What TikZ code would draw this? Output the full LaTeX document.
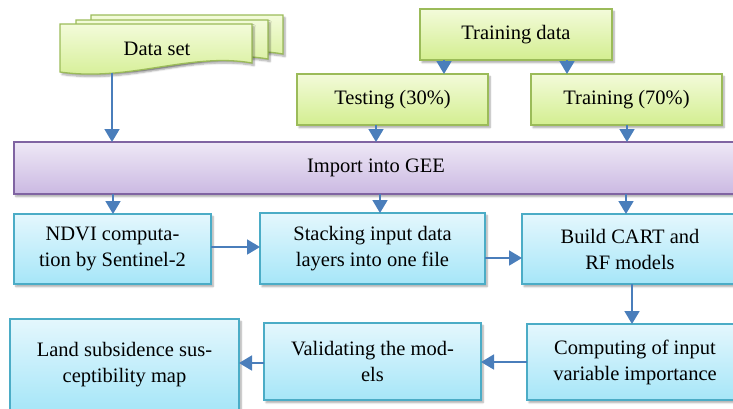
\documentclass[tikz,border=0pt]{standalone}
\usepackage{fontspec}
\setmainfont{Liberation Serif}
\usetikzlibrary{arrows.meta,shadows.blur}

\definecolor{grnline}{HTML}{9BBB59}
\definecolor{grntop}{HTML}{F3FBDA}
\definecolor{grnbot}{HTML}{D3EE90}
\definecolor{bluline}{HTML}{4BACC6}
\definecolor{blutop}{HTML}{E4F7FD}
\definecolor{blubot}{HTML}{A6E6F8}
\definecolor{purline}{HTML}{8064A2}
\definecolor{purtop}{HTML}{EEE8F6}
\definecolor{purbot}{HTML}{CBB9E2}
\definecolor{arrcol}{HTML}{4A7EBB}

\tikzset{
  boxshadow/.style={blur shadow={shadow xshift=2pt,shadow yshift=-2.5pt,
      shadow blur steps=6,shadow opacity=35}},
  basebox/.style={rectangle,inner sep=2pt,outer sep=0pt,align=center,
      line width=1.3pt,boxshadow,
      font=\fontsize{20.5}{26}\selectfont},
  greenbox/.style={basebox,draw=grnline,top color=grntop,bottom color=grnbot},
  bluebox/.style={basebox,draw=bluline,top color=blutop,bottom color=blubot},
  purplebox/.style={basebox,draw=purline,top color=purtop,bottom color=purbot},
  docsheet/.style={draw=grnline,line width=1.3pt,top color=grntop,
      bottom color=grnbot,boxshadow},
  docpage/.pic={
    \path[docsheet] (0,0) -- (192,0) -- (192,39)
      .. controls (130,28) and (70,58) .. (0,48) -- cycle;
  },
  arr/.style={draw=arrcol,line width=1.8pt,
      -{Triangle[width=15pt,length=13pt]}},
}

\begin{document}
\begin{tikzpicture}[x=1pt,y=-1pt]
  \useasboundingbox (0,0) rectangle (733,408);
  \path[clip] (0,0) rectangle (733,408);

  % stacked data-set sheets, back to front
  \pic at (91,15) {docpage};
  \pic at (76,20) {docpage};
  \pic at (60,24) {docpage};
  \node[font=\fontsize{20.5}{26}\selectfont] (ds) at (157,49) {Data set};
  \coordinate (dsb) at (112,73);

  % sample split
  \node[greenbox,minimum width=192pt,minimum height=51pt] (td) at (516,34.5) {Training data};
  \node[greenbox,minimum width=191pt,minimum height=51pt] (test) at (392.5,99.5) {Testing (30\%)};
  \node[greenbox,minimum width=191pt,minimum height=51pt] (train) at (626.5,99.5) {Training (70\%)};

  % platform
  \node[purplebox,minimum width=724pt,minimum height=52pt] (gee) at (376,168) {Import into GEE};

  % processing row
  \node[bluebox,minimum width=197pt,minimum height=70pt] (ndvi) at (112.5,249)
    {NDVI computa-\\tion by Sentinel-2};
  \node[bluebox,minimum width=225pt,minimum height=71pt] (stack) at (372.5,248.5)
    {Stacking input data\\layers into one file};
  \node[bluebox,minimum width=216pt,minimum height=70pt] (build) at (630,249)
    {Build CART and\\RF models};

  % evaluation row
  \node[bluebox,minimum width=216pt,minimum height=76pt] (comp) at (635,362)
    {Computing of input\\variable importance};
  \node[bluebox,minimum width=217pt,minimum height=77pt] (val) at (372.5,361.5)
    {Validating the mod-\\els};
  \node[bluebox,minimum width=229pt,minimum height=92pt] (land) at (124.5,365)
    {Land subsidence sus-\\ceptibility map};

  % connectors
  \draw[arr] (444,0 |- td.south) -- (444,0 |- test.north);
  \draw[arr] (567,0 |- td.south) -- (567,0 |- train.north);
  \draw[arr] (dsb) -- (dsb |- gee.north);
  \draw[arr] (376,0 |- test.south) -- (376,0 |- gee.north);
  \draw[arr] (627,0 |- train.south) -- (627,0 |- gee.north);
  \draw[arr] (113,0 |- gee.south) -- (113,0 |- ndvi.north);
  \draw[arr] (380,0 |- gee.south) -- (380,0 |- stack.north);
  \draw[arr] (626,0 |- gee.south) -- (626,0 |- build.north);
  \draw[arr] (ndvi.east |- 0,247) -- (stack.west |- 0,247);
  \draw[arr] (stack.east |- 0,258) -- (build.west |- 0,258);
  \draw[arr] (632,0 |- build.south) -- (632,0 |- comp.north);
  \draw[arr] (comp.west |- 0,362) -- (val.east |- 0,362);
  \draw[arr] (val.west |- 0,363) -- (land.east |- 0,363);
\end{tikzpicture}
\end{document}
